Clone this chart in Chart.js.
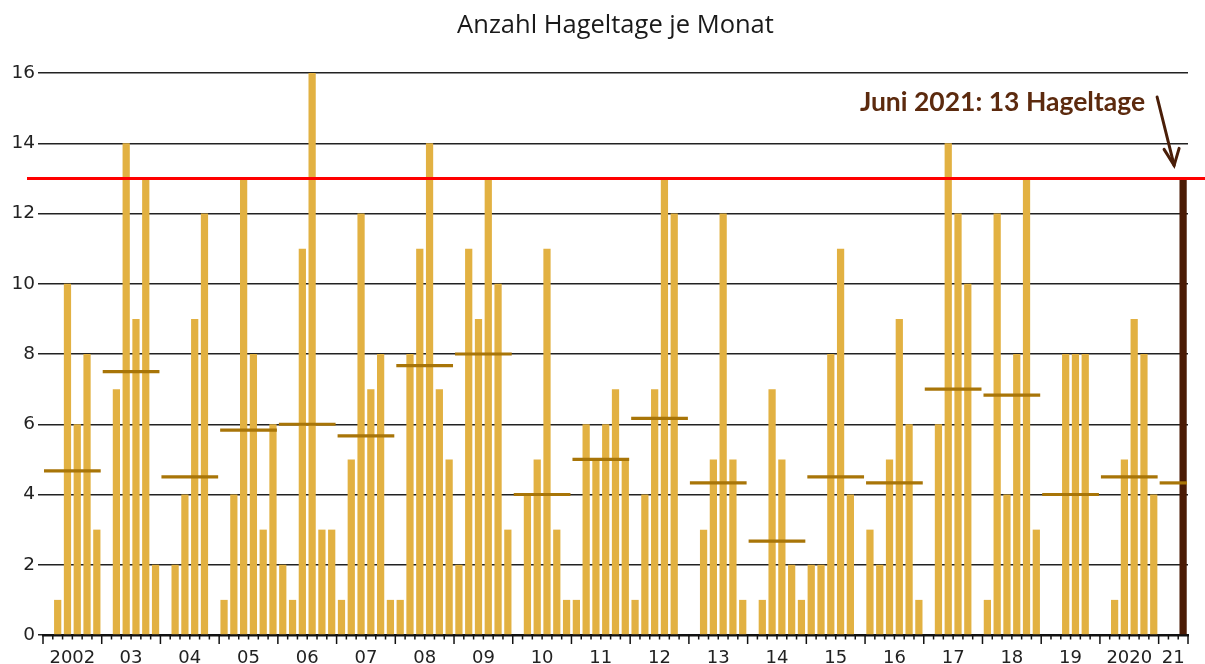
<!DOCTYPE html>
<html lang="de">
<head>
<meta charset="utf-8">
<title>Anzahl Hageltage je Monat</title>
<script src="https://cdn.jsdelivr.net/npm/chart.js@4.4.1/dist/chart.umd.min.js"></script>
<style>
    html, body { margin: 0; padding: 0; background: #fff; }
    #hagelChart { display: block; }
</style>
</head>
<body>
<canvas id="hagelChart" width="1205" height="664"></canvas>
<script>
// Jahre (Beschriftung der x-Achse)
const jahresLabels = ['2002', '03', '04', '05', '06', '07', '08', '09', '10', '11',
    '12', '13', '14', '15', '16', '17', '18', '19', '2020', '21'];

// Monate je Jahr (April bis September), 2021 nur bis Juni
const monate = ['Apr', 'Mai', 'Jun', 'Jul', 'Aug', 'Sep'];
const monate2021 = ['Apr', 'Mai', 'Jun'];

// Anzahl Hageltage je Monat
const hageltage = [
    0, 1, 10, 6, 8, 3,      // 2002
    0, 7, 14, 9, 13, 2,     // 2003
    0, 2, 4, 9, 12, 0,      // 2004
    1, 4, 13, 8, 3, 6,      // 2005
    2, 1, 11, 16, 3, 3,     // 2006
    1, 5, 12, 7, 8, 1,      // 2007
    1, 8, 11, 14, 7, 5,     // 2008
    2, 11, 9, 13, 10, 3,    // 2009
    0, 4, 5, 11, 3, 1,      // 2010
    1, 6, 5, 6, 7, 5,       // 2011
    1, 4, 7, 13, 12, 0,     // 2012
    0, 3, 5, 12, 5, 1,      // 2013
    0, 1, 7, 5, 2, 1,       // 2014
    2, 2, 8, 11, 4, 0,      // 2015
    3, 2, 5, 9, 6, 1,       // 2016
    0, 6, 14, 12, 10, 0,    // 2017
    1, 12, 4, 8, 13, 3,     // 2018
    0, 0, 8, 8, 8, 0,       // 2019
    0, 1, 5, 9, 8, 4,       // 2020
    0, 0, 13                // 2021
];

// Mittelwert je Jahr (waagrechte Striche)
const jahresMittel = [4.67, 7.5, 4.5, 5.83, 6, 5.67, 7.67, 8, 4, 5,
    6.17, 4.33, 2.67, 4.5, 4.33, 7, 6.83, 4, 4.5, 4.33];

// Juni 2021 als Vergleichslinie
const juni2021 = 13;

// Kategorien bauen (ein Eintrag je Monat)
const kategorien = [];
const monateJeJahr = [];
jahresLabels.forEach(function (j, i) {
    const liste = i === jahresLabels.length - 1 ? monate2021 : monate;
    monateJeJahr.push(liste.length);
    liste.forEach(function (m) { kategorien.push(m + ' ' + (2002 + i)); });
});

const balkenFarben = hageltage.map(function (v, i) {
    return i === hageltage.length - 1 ? '#4B1B05' : '#E2B142';
});

// zusätzliche Zeichnungen: Mittelwerte, rote Linie, Achsenstriche, Hinweis
const hagelExtras = {
    id: 'hagelExtras',
    afterDatasetsDraw(chart) {
        const ctx = chart.ctx;
        const xs = chart.scales.x;
        const ys = chart.scales.y;
        const slot = xs.getPixelForValue(1) - xs.getPixelForValue(0);

        ctx.save();
        // Jahresmittel
        ctx.strokeStyle = '#A87508';
        ctx.lineWidth = 3.2;
        let start = 0;
        monateJeJahr.forEach(function (n, i) {
            const x0 = xs.getPixelForValue(start) - slot / 2;
            const x1 = xs.getPixelForValue(start + n - 1) + slot / 2;
            const yy = ys.getPixelForValue(jahresMittel[i]);
            ctx.beginPath();
            ctx.moveTo(x0 + 1, yy);
            ctx.lineTo(x1 - 1, yy);
            ctx.stroke();
            start += n;
        });

        // rote Linie bei 13
        const yRot = ys.getPixelForValue(juni2021);
        ctx.strokeStyle = '#FF0000';
        ctx.lineWidth = 3;
        ctx.beginPath();
        ctx.moveTo(27, yRot);
        ctx.lineTo(chart.width, yRot);
        ctx.stroke();
        ctx.restore();
    },
    afterDraw(chart) {
        const ctx = chart.ctx;
        const xs = chart.scales.x;
        const ys = chart.scales.y;
        const unten = chart.chartArea.bottom;
        const slot = xs.getPixelForValue(1) - xs.getPixelForValue(0);

        ctx.save();
        // Striche an der x-Achse
        ctx.strokeStyle = '#111';
        ctx.lineWidth = 1.5;
        const grenzen = [0];
        let s = 0;
        monateJeJahr.forEach(function (n) { s += n; grenzen.push(s); });
        for (let k = 0; k <= hageltage.length; k++) {
            const px = xs.getPixelForValue(Math.min(k, hageltage.length - 1)) +
                (k === hageltage.length ? slot / 2 : -slot / 2);
            const gross = grenzen.indexOf(k) !== -1;
            ctx.beginPath();
            ctx.moveTo(px, unten);
            ctx.lineTo(px, unten + (gross ? 9 : 4.5));
            ctx.stroke();
        }

        // Jahresbeschriftung
        ctx.fillStyle = '#222';
        ctx.font = '18px "DejaVu Sans", Verdana, sans-serif';
        ctx.textAlign = 'center';
        ctx.textBaseline = 'middle';
        jahresLabels.forEach(function (j, i) {
            const x0 = xs.getPixelForValue(grenzen[i]) - slot / 2;
            const x1 = xs.getPixelForValue(grenzen[i + 1] - 1) + slot / 2;
            ctx.fillText(j, (x0 + x1) / 2, unten + 23);
        });

        // Hinweis Juni 2021
        const xBalken = xs.getPixelForValue(hageltage.length - 1);
        const yBalken = ys.getPixelForValue(juni2021);
        ctx.fillStyle = '#5C2A0E';
        ctx.font = 'bold 26.5px Lato';
        ctx.textAlign = 'right';
        ctx.textBaseline = 'alphabetic';
        ctx.fillText('Juni 2021: 13 Hageltage', xBalken - 38, 111);

        // Pfeil
        const tipX = xBalken - 9;
        const tipY = yBalken - 13;
        ctx.strokeStyle = '#4A1E08';
        ctx.lineWidth = 3;
        ctx.lineCap = 'round';
        ctx.beginPath();
        ctx.moveTo(tipX - 17, 97);
        ctx.lineTo(tipX, tipY);
        ctx.stroke();
        ctx.beginPath();
        ctx.moveTo(tipX - 10, tipY - 16);
        ctx.lineTo(tipX, tipY);
        ctx.lineTo(tipX + 5, tipY - 17);
        ctx.stroke();
        ctx.restore();
    }
};

document.addEventListener('DOMContentLoaded', function () {
    const ctx = document.getElementById('hagelChart').getContext('2d');

    const hagelChart = new Chart(ctx, {
        type: 'bar',
        data: {
            labels: kategorien,
            datasets: [{
                label: 'Hageltage',
                data: hageltage,
                backgroundColor: balkenFarben,
                borderWidth: 0,
                barPercentage: 0.74,
                categoryPercentage: 1.0
            }]
        },
        options: {
            responsive: false,
            animation: false,
            devicePixelRatio: 1,
            layout: {
                padding: { left: 0, right: 17, top: 0, bottom: 0 }
            },
            scales: {
                x: {
                    grid: { display: false },
                    ticks: { display: false },
                    border: { display: true, color: '#111', width: 2.5 },
                    afterFit: function (scale) { scale.height = 29; }
                },
                y: {
                    min: 0,
                    max: 16,
                    ticks: {
                        stepSize: 2,
                        padding: 3,
                        color: '#222',
                        font: { family: '"DejaVu Sans", Verdana, sans-serif', size: 18.5 }
                    },
                    grid: { color: '#222', lineWidth: 1.5, tickLength: 5 },
                    border: { display: false },
                    afterFit: function (scale) { scale.width = 43; }
                }
            },
            plugins: {
                legend: { display: false },
                tooltip: { enabled: false },
                title: {
                    display: true,
                    text: 'Anzahl Hageltage je Monat',
                    fullSize: false,
                    color: '#1a1a1a',
                    font: { family: '"Open Sans"', size: 25.5, weight: 'normal' },
                    padding: { top: 10, bottom: 32.4 }
                }
            }
        },
        plugins: [hagelExtras]
    });
});
</script>
</body>
</html>
